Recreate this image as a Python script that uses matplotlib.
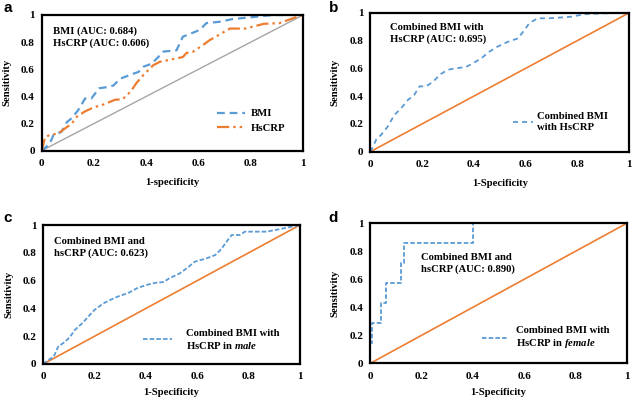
import numpy as np
import matplotlib
matplotlib.use('Agg')
import matplotlib.pyplot as plt

plt.rcParams['font.family'] = ['Liberation Serif', 'DejaVu Serif']
plt.rcParams['font.weight'] = 'bold'
plt.rcParams['mathtext.fontset'] = 'custom'
plt.rcParams['mathtext.rm'] = 'Liberation Serif:bold'
plt.rcParams['mathtext.it'] = 'Liberation Serif:bold:italic'
plt.rcParams['mathtext.bf'] = 'Liberation Serif:bold'

BLUE = '#5B9BD5'
ORANGE = '#ED7D31'
GRAY = '#A5A5A5'

# panel a
bmi_x = [0, 0.03, 0.045, 0.076, 0.096, 0.115, 0.14, 0.166, 0.19, 0.22, 0.255, 0.274, 0.30, 0.34,
         0.37, 0.39, 0.42, 0.446, 0.465, 0.516, 0.54, 0.573, 0.605, 0.63, 0.68, 0.73, 0.81, 0.885, 1]
bmi_y = [0, 0.05, 0.115, 0.14, 0.21, 0.24, 0.30, 0.385, 0.385, 0.46, 0.47, 0.48, 0.53, 0.56,
         0.58, 0.62, 0.64, 0.69, 0.73, 0.74, 0.84, 0.865, 0.89, 0.94, 0.95, 0.97, 0.985, 1.0, 1]
crp_x = [0, 0.013, 0.03, 0.064, 0.09, 0.115, 0.134, 0.166, 0.2, 0.236, 0.28, 0.31, 0.34, 0.363,
         0.39, 0.427, 0.452, 0.49, 0.54, 0.554, 0.58, 0.618, 0.643, 0.675, 0.72, 0.78, 0.85, 0.91, 0.96, 1]
crp_y = [0, 0.10, 0.115, 0.128, 0.165, 0.20, 0.25, 0.29, 0.32, 0.34, 0.375, 0.38, 0.435, 0.50,
         0.56, 0.63, 0.655, 0.67, 0.69, 0.72, 0.73, 0.78, 0.815, 0.85, 0.90, 0.90, 0.935, 0.94, 0.975, 1]

# panel b
comb_x = [0, 0.01, 0.022, 0.041, 0.067, 0.093, 0.118, 0.144, 0.17, 0.19, 0.215, 0.24, 0.273, 0.30,
          0.33, 0.37, 0.395, 0.427, 0.46, 0.49, 0.53, 0.57, 0.595, 0.614, 0.646, 0.69, 0.77, 0.83, 0.897, 1]
comb_y = [0, 0.035, 0.085, 0.12, 0.18, 0.265, 0.31, 0.37, 0.41, 0.47, 0.47, 0.50, 0.56, 0.59,
          0.60, 0.61, 0.635, 0.67, 0.72, 0.755, 0.79, 0.815, 0.875, 0.925, 0.96, 0.96, 0.97, 0.99, 0.995, 1]

# panel c
male_x = [0, 0.02, 0.04, 0.058, 0.085, 0.104, 0.123, 0.15, 0.175, 0.2, 0.234, 0.26, 0.29, 0.33,
          0.364, 0.40, 0.44, 0.47, 0.49, 0.53, 0.56, 0.59, 0.636, 0.67, 0.695, 0.714, 0.734, 0.766,
          0.785, 0.87, 0.92, 0.974, 1]
male_y = [0, 0.03, 0.05, 0.125, 0.16, 0.195, 0.245, 0.29, 0.34, 0.39, 0.436, 0.46, 0.485, 0.51,
          0.544, 0.568, 0.585, 0.59, 0.616, 0.65, 0.69, 0.736, 0.76, 0.784, 0.83, 0.88, 0.928, 0.928,
          0.952, 0.952, 0.97, 0.99, 1]

# panel d
fem_x = [0, 0, 0.005, 0.005, 0.042, 0.042, 0.061, 0.061, 0.12, 0.12, 0.133, 0.133, 0.40, 0.40, 1]
fem_y = [0, 1/7, 1/7, 2/7, 2/7, 3/7, 3/7, 4/7, 4/7, 5/7, 5/7, 6/7, 6/7, 1, 1]

ticks = [0, 0.2, 0.4, 0.6, 0.8, 1]
tick_labels = ['0', '0.2', '0.4', '0.6', '0.8', '1']

FS = 7.7
fig = plt.figure(figsize=(6.33, 4.01), dpi=100)


def setup(rect, xlabel, xpad, ypad):
    ax = fig.add_axes(rect)
    ax.set_xlim(0, 1)
    ax.set_ylim(0, 1)
    ax.set_xticks(ticks)
    ax.set_xticklabels(tick_labels)
    ax.set_yticks(ticks)
    ax.set_yticklabels(tick_labels)
    ax.tick_params(length=0, labelsize=8)
    ax.tick_params(axis='x', pad=6)
    ax.tick_params(axis='y', pad=5)
    for s in ax.spines.values():
        s.set_linewidth(1.6)
        s.set_color('black')
    ax.set_xlabel(xlabel, fontsize=FS, fontweight='bold', labelpad=xpad)
    ax.set_ylabel('Sensitivity', fontsize=FS, fontweight='bold', labelpad=ypad)
    return ax


ax_a = setup([0.0659, 0.6242, 0.4128, 0.3384], '1-specificity', 7.5, 6.5)
ax_a.plot([0, 1], [0, 1], color=GRAY, lw=1.0)
ax_a.plot(bmi_x, bmi_y, color=BLUE, lw=1.6, dashes=(3.5, 2.2), label='BMI')
ax_a.plot(crp_x, crp_y, color=ORANGE, lw=1.6, dashes=(5.5, 1.8, 1.1, 1.8, 1.1, 1.8), label='HsCRP')
ax_a.text(0.045, 0.877, 'BMI (AUC: 0.684)', fontsize=FS, fontweight='bold', va='center')
ax_a.text(0.045, 0.79, 'HsCRP (AUC: 0.606)', fontsize=FS, fontweight='bold', va='center')
ax_a.legend(loc='center left', bbox_to_anchor=(0.67, 0.22), frameon=False, fontsize=FS,
            handlelength=2.6, handletextpad=0.6, labelspacing=0.45, borderpad=0, borderaxespad=0)

ax_b = setup([0.585, 0.6217, 0.4092, 0.3466], '1-Specificity', 7.5, 7.5)
ax_b.plot([0, 1], [0, 1], color=ORANGE, lw=1.2)
ax_b.plot(comb_x, comb_y, color=BLUE, lw=1.3, dashes=(2.8, 2.2), label='Combined BMI\nwith HsCRP')
ax_b.text(0.076, 0.85, 'Combined BMI with\nHsCRP (AUC: 0.695)', fontsize=FS, fontweight='bold',
          va='center', linespacing=1.3)
ax_b.legend(loc='center left', bbox_to_anchor=(0.55, 0.215), frameon=False, fontsize=FS,
            handlelength=1.9, handletextpad=0.4, borderpad=0, borderaxespad=0)

ax_c = setup([0.0684, 0.0923, 0.4055, 0.3466], '1-Specificity', 5, 6.5)
ax_c.plot([0, 1], [0, 1], color=ORANGE, lw=1.2)
ax_c.plot(male_x, male_y, color=BLUE, lw=1.3, dashes=(2.5, 1.2),
          label='Combined BMI with\nHsCRP in $\\mathit{male}$')
ax_c.text(0.043, 0.84, 'Combined BMI and\nhsCRP (AUC: 0.623)', fontsize=FS, fontweight='bold',
          va='center', linespacing=1.3)
ax_c.legend(loc='center left', bbox_to_anchor=(0.39, 0.175), frameon=False, fontsize=FS,
            handlelength=2.7, handletextpad=1.25, borderpad=0, borderaxespad=0)

ax_d = setup([0.585, 0.094, 0.405, 0.3491], '1-Specificity', 5, 7.5)
ax_d.plot([0, 1], [0, 1], color=ORANGE, lw=1.2)
ax_d.plot(fem_x, fem_y, color=BLUE, lw=1.3, dashes=(2.5, 1.2),
          label='Combined BMI with\nHsCRP in $\\mathit{female}$')
ax_d.text(0.198, 0.715, 'Combined BMI and\nhsCRP (AUC: 0.890)', fontsize=FS, fontweight='bold',
          va='center', linespacing=1.3)
ax_d.legend(loc='center left', bbox_to_anchor=(0.434, 0.182), frameon=False, fontsize=FS,
            handlelength=2.4, handletextpad=0.8, borderpad=0, borderaxespad=0)

for lab, x, y in [('a', 8, 8), ('b', 334, 8), ('c', 8, 218), ('d', 333, 218)]:
    fig.text(x / 633, 1 - y / 401, lab, fontsize=11, fontweight='bold',
             family='Liberation Sans', ha='center', va='center')

fig.savefig('out.png', dpi=100)
